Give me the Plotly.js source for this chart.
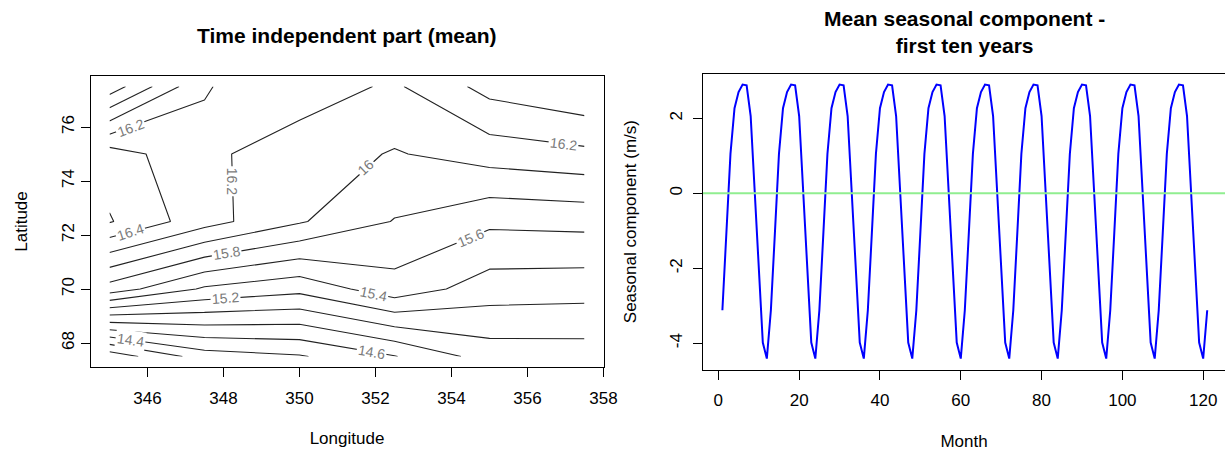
<!DOCTYPE html>
<html>
<head>
<meta charset="utf-8">
<script src="https://cdn.plot.ly/plotly-3.0.1.min.js"></script>
<style>
  html, body { margin: 0; padding: 0; background: #ffffff; }
  #chart { width: 1225px; height: 454px; }
</style>
</head>
<body>
<div id="chart"></div>
<script>
// ---------- Data: left panel (time independent mean field) ----------
const longitude = [345, 347.5, 350, 352.5, 355, 357.5];
const latitude  = [67.5, 70, 72.5, 75, 77.5];
const meanLat67_5 = [13.87, 14.30, 14.38, 14.59, 14.89, 14.90];
const meanLat70   = [15.71, 15.37, 15.26, 15.52, 15.30, 15.28];
const meanLat72_5 = [16.615, 16.28, 16.02, 15.79, 15.64, 15.66];
const meanLat75   = [16.50, 16.24, 16.10, 15.985, 16.09, 16.15];
const meanLat77_5 = [15.48, 16.19, 16.30, 16.17, 16.47, 16.59];
const lonTicks = [346, 348, 350, 352, 354, 356, 358];
const latTicks = [68, 70, 72, 74, 76];

// ---------- Data: right panel (mean seasonal component, 10 years) ----------
const seasonalComponent = [
  -3.12, -1.05, 1.05, 2.27, 2.70, 2.90, 2.88, 2.06, 0.02, -2.00, -3.98, -4.41,
  -3.12, -1.05, 1.05, 2.27, 2.70, 2.90, 2.88, 2.06, 0.02, -2.00, -3.98, -4.41,
  -3.12, -1.05, 1.05, 2.27, 2.70, 2.90, 2.88, 2.06, 0.02, -2.00, -3.98, -4.41,
  -3.12, -1.05, 1.05, 2.27, 2.70, 2.90, 2.88, 2.06, 0.02, -2.00, -3.98, -4.41,
  -3.12, -1.05, 1.05, 2.27, 2.70, 2.90, 2.88, 2.06, 0.02, -2.00, -3.98, -4.41,
  -3.12, -1.05, 1.05, 2.27, 2.70, 2.90, 2.88, 2.06, 0.02, -2.00, -3.98, -4.41,
  -3.12, -1.05, 1.05, 2.27, 2.70, 2.90, 2.88, 2.06, 0.02, -2.00, -3.98, -4.41,
  -3.12, -1.05, 1.05, 2.27, 2.70, 2.90, 2.88, 2.06, 0.02, -2.00, -3.98, -4.41,
  -3.12, -1.05, 1.05, 2.27, 2.70, 2.90, 2.88, 2.06, 0.02, -2.00, -3.98, -4.41,
  -3.12, -1.05, 1.05, 2.27, 2.70, 2.90, 2.88, 2.06, 0.02, -2.00, -3.98, -4.41,
  -3.12
];
const monthTicks = [0, 20, 40, 60, 80, 100, 120];
const seasonalTicks = [-4, -2, 0, 2];

// contour label placement (text, position on the line, rotation)
const contourLabels = [
  { text: '16.2', lon: 345.55, lat: 75.98, angle: -20 },
  { text: '16.4', lon: 345.55, lat: 72.10, angle: -18 },
  { text: '16.2', lon: 348.23, lat: 74.00, angle: 90 },
  { text: '16',   lon: 351.75, lat: 74.50, angle: -43 },
  { text: '15.8', lon: 348.07, lat: 71.35, angle: -9 },
  { text: '15.6', lon: 354.50, lat: 71.90, angle: -23 },
  { text: '15.4', lon: 351.96, lat: 69.83, angle: 12 },
  { text: '15.2', lon: 348.06, lat: 69.65, angle: -4 },
  { text: '14.4', lon: 345.56, lat: 68.11, angle: 8 },
  { text: '14.6', lon: 351.90, lat: 67.65, angle: 10 },
  { text: '16.2', lon: 356.96, lat: 75.38, angle: 7 }
];

// ---------- Build ----------
const meanField = [meanLat67_5, meanLat70, meanLat72_5, meanLat75, meanLat77_5];
const months = seasonalComponent.map((_, i) => i + 1);

const FONT = 'Liberation Sans, Arial, Helvetica, sans-serif';
const W = 1225, H = 454;
const px = (v) => v / W;
const py = (v) => 1 - v / H;

const contourTrace = {
  type: 'contour',
  x: longitude, y: latitude, z: meanField,
  xaxis: 'x', yaxis: 'y',
  contours: { coloring: 'lines', start: 13.8, end: 16.8, size: 0.2, showlabels: false },
  colorscale: [[0, '#222222'], [1, '#222222']],
  line: { width: 1.1, smoothing: 0 },
  showscale: false,
  hoverinfo: 'skip'
};

const seasonalTrace = {
  type: 'scatter', mode: 'lines',
  x: months, y: seasonalComponent,
  xaxis: 'x2', yaxis: 'y2',
  line: { color: '#0000ff', width: 2 },
  hoverinfo: 'skip'
};

const axisCommon = {
  ticks: 'outside', ticklen: 9, tickwidth: 1, tickcolor: '#000',
  showline: true, linecolor: '#000', linewidth: 1,
  showgrid: false, zeroline: false,
  tickfont: { family: FONT, size: 17, color: '#000' },
  tickmode: 'array', fixedrange: true
};

const annotations = contourLabels.map(l => ({
  x: l.lon, y: l.lat, xref: 'x', yref: 'y',
  text: l.text, showarrow: false, textangle: l.angle,
  font: { family: FONT, size: 14, color: '#7a7a7a' },
  bgcolor: '#ffffff', borderpad: 1
}));

annotations.push({
  xref: 'paper', yref: 'paper', x: px(347), y: py(35),
  xanchor: 'center', yanchor: 'middle', showarrow: false,
  text: '<b>Time independent part (mean)</b>',
  font: { family: FONT, size: 21, color: '#000' }
});
annotations.push({
  xref: 'paper', yref: 'paper', x: px(964), y: py(31.5),
  xanchor: 'center', yanchor: 'middle', showarrow: false,
  text: '<b>Mean seasonal component -</b><br><b>first ten years</b>',
  font: { family: FONT, size: 21, color: '#000' }
});

const layout = {
  width: W, height: H,
  margin: { l: 0, r: 0, t: 0, b: 0 },
  paper_bgcolor: '#ffffff', plot_bgcolor: '#ffffff',
  showlegend: false,
  xaxis: Object.assign({}, axisCommon, {
    domain: [px(90.5), px(603.5)], range: [344.5, 358], anchor: 'y',
    tickvals: lonTicks, ticktext: lonTicks.map(String), mirror: true,
    ticklabelstandoff: 6,
    title: { text: 'Longitude', font: { family: FONT, size: 17, color: '#000' }, standoff: 25 }
  }),
  yaxis: Object.assign({}, axisCommon, {
    domain: [py(367.3), py(75.7)], range: [67.1, 77.9], anchor: 'x',
    tickvals: latTicks, ticktext: latTicks.map(String), tickangle: -90, mirror: true,
    ticklabelstandoff: 0,
    title: { text: 'Latitude', font: { family: FONT, size: 17, color: '#000' }, standoff: 26 }
  }),
  xaxis2: Object.assign({}, axisCommon, {
    domain: [px(703), 1], range: [-3.8, 125.4], anchor: 'y2',
    tickvals: monthTicks, ticktext: monthTicks.map(String), mirror: true,
    ticklabelstandoff: 6,
    title: { text: 'Month', font: { family: FONT, size: 17, color: '#000' }, standoff: 26 }
  }),
  yaxis2: Object.assign({}, axisCommon, {
    domain: [py(369.5), py(73.7)], range: [-4.70, 3.19], anchor: 'x2',
    tickvals: seasonalTicks, ticktext: seasonalTicks.map(String), tickangle: -90,
    ticklabelstandoff: 4,
    title: { text: 'Seasonal component (m/s)', font: { family: FONT, size: 17, color: '#000' }, standoff: 26 }
  }),
  shapes: [{
    type: 'line', xref: 'x2 domain', yref: 'y2',
    x0: 0, x1: 1, y0: 0, y1: 0,
    line: { color: '#90ee90', width: 2 }, layer: 'above'
  }],
  annotations: annotations
};

Plotly.newPlot('chart', [contourTrace, seasonalTrace], layout, { staticPlot: true, displayModeBar: false });
</script>
</body>
</html>
